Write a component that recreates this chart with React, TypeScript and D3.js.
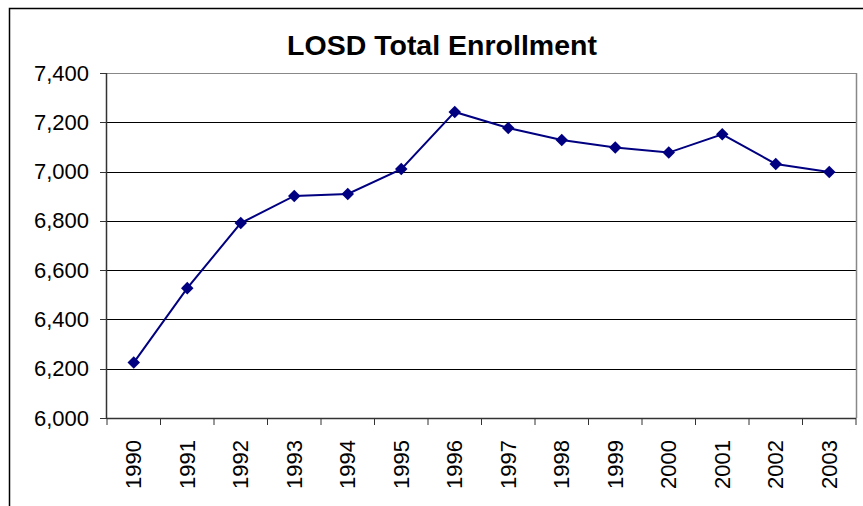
import React from "react";
import * as d3 from "d3";

const years = ["1990","1991","1992","1993","1994","1995","1996","1997","1998","1999","2000","2001","2002","2003"];
const enrollment = [6225, 6527, 6791, 6901, 6909, 7010, 7242, 7177, 7128, 7098, 7077, 7151, 7031, 6998];
const yTicks = [6000, 6200, 6400, 6600, 6800, 7000, 7200, 7400];
const title = "LOSD Total Enrollment";

export default function App() {
  const W = 863, H = 506;
  const left = 107, right = 856, top = 73, bottom = 418;
  const x = d3.scaleBand().domain(years).range([left, right]);
  const y = d3.scaleLinear().domain([6000, 7400]).range([bottom, top]);
  const fmt = d3.format(",");
  const line = d3.line<number>()
    .x((_, i) => (x(years[i]) as number) + x.bandwidth() / 2)
    .y((d) => y(d));
  const font = "'Liberation Sans', Arial, sans-serif";
  const diamond = d3.symbol().type(d3.symbolDiamond2).size(100)() as string;
  return (
    <svg width={W} height={H} style={{ position: "absolute", left: 0, top: 0, background: "#fff" }}>
      <rect x={9.5} y={8.5} width={W + 20} height={H + 20} fill="#fff" stroke="#000" strokeWidth={1.5} />
      <text x={442} y={55} textAnchor="middle" fontFamily={font} fontWeight="bold" fontSize={28.5}>{title}</text>
      {yTicks.map((t) => (
        <g key={t}>
          <line x1={left} x2={right} y1={Math.round(y(t)) + 0.5} y2={Math.round(y(t)) + 0.5}
            stroke={t === 7400 ? "#888" : "#000"} strokeWidth={1} />
          <line x1={left - 7} x2={left} y1={Math.round(y(t)) + 0.5} y2={Math.round(y(t)) + 0.5} stroke="#333" />
          <text x={left - 18} y={y(t) + 7.5} textAnchor="end" fontFamily={font} fontSize={22}>{fmt(t)}</text>
        </g>
      ))}
      <line x1={right + 0.5} x2={right + 0.5} y1={top} y2={bottom} stroke="#888" strokeWidth={1.5} />
      <line x1={left - 0.5} x2={left - 0.5} y1={top} y2={bottom + 1} stroke="#333" strokeWidth={1.5} />
      <line x1={left} x2={right} y1={bottom + 0.5} y2={bottom + 0.5} stroke="#333" strokeWidth={1.5} />
      {years.map((yr) => (
        <line key={"t" + yr} x1={(x(yr) as number)} x2={(x(yr) as number)} y1={bottom} y2={bottom + 7} stroke="#333" />
      ))}
      <line x1={right} x2={right} y1={bottom} y2={bottom + 7} stroke="#333" />
      {years.map((yr) => {
        const cx = (x(yr) as number) + x.bandwidth() / 2;
        return (
          <text key={"l" + yr} transform={`translate(${cx + 7.5},440) rotate(-90)`} textAnchor="end"
            fontFamily={font} fontSize={22}>{yr}</text>
        );
      })}
      <path d={line(enrollment) as string} fill="none" stroke="#000080" strokeWidth={2} />
      {enrollment.map((v, i) => (
        <path key={"m" + i} d={diamond}
          transform={`translate(${(x(years[i]) as number) + x.bandwidth() / 2},${y(v)})`} fill="#000080" />
      ))}
    </svg>
  );
}
